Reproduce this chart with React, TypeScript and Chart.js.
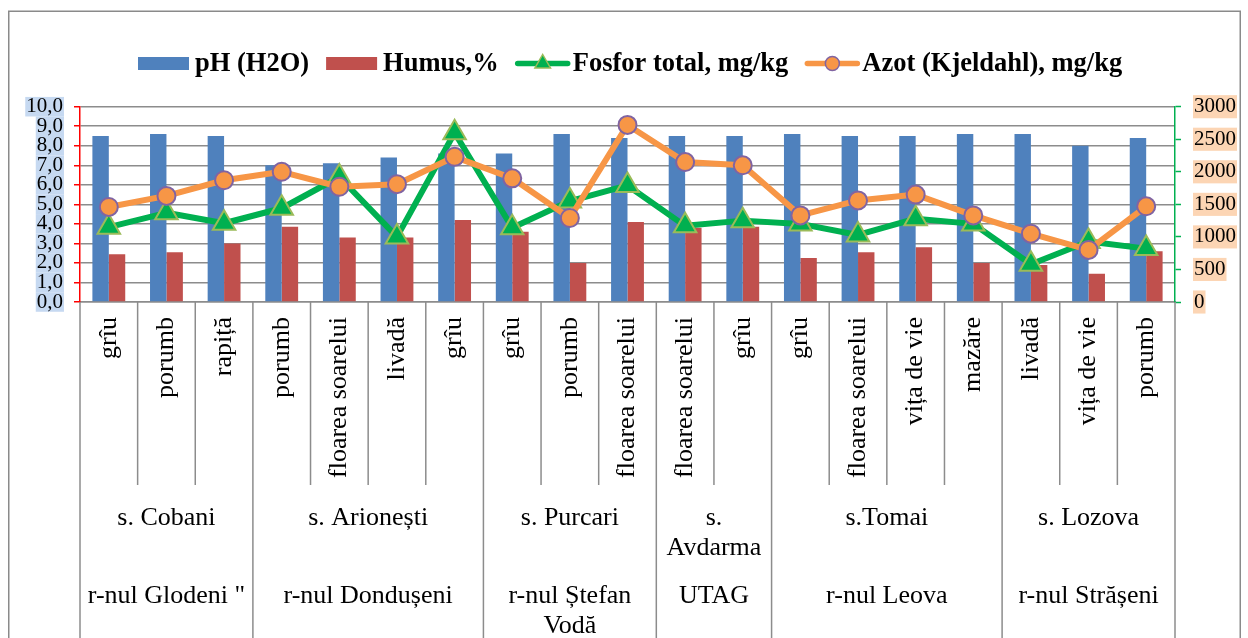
import React, { useEffect, useRef } from "react";
import { Chart, registerables } from "chart.js";

Chart.register(...registerables);

// ---- data ----
const categories = [
  "grîu", "porumb", "rapiță",
  "porumb", "floarea soarelui", "livadă", "grîu",
  "grîu", "porumb", "floarea soarelui",
  "floarea soarelui", "grîu",
  "grîu", "floarea soarelui", "vița de vie", "mazăre",
  "livadă", "vița de vie", "porumb",
];
const villageLabels = [["s. Cobani"], ["s. Arionești"], ["s. Purcari"], ["s.", "Avdarma"], ["s.Tomai"], ["s. Lozova"]];
const villageSizes = [3, 4, 3, 2, 4, 3];
const districtLabels = [["r-nul Glodeni \""], ["r-nul Dondușeni"], ["r-nul Ștefan", "Vodă"], ["UTAG"], ["r-nul Leova"], ["r-nul Strășeni"]];

const phValues = [8.5, 8.6, 8.5, 7.0, 7.1, 7.4, 7.6, 7.6, 8.6, 8.4, 8.5, 8.5, 8.6, 8.5, 8.5, 8.6, 8.6, 8.0, 8.4];
const humusValues = [2.45, 2.55, 3.0, 3.85, 3.3, 3.3, 4.2, 3.6, 2.0, 4.1, 3.8, 3.85, 2.25, 2.55, 2.8, 2.0, 1.9, 1.45, 2.6];
const fosforValues = [1150, 1370, 1210, 1440, 1920, 1000, 2600, 1140, 1550, 1790, 1170, 1250, 1200, 1030, 1280, 1200, 580, 930, 820];
const azotValues = [1460, 1630, 1870, 2000, 1770, 1810, 2230, 1900, 1290, 2720, 2150, 2100, 1330, 1560, 1650, 1330, 1050, 800, 1470];

const leftTickLabels = ["0,0", "1,0", "2,0", "3,0", "4,0", "5,0", "6,0", "7,0", "8,0", "9,0", "10,0"];
const rightTickLabels = ["0", "500", "1000", "1500", "2000", "2500", "3000"];

// ---- styles ----
const FONT = "'Liberation Serif', 'Times New Roman', serif";
const BLUE = "#4f81bd";
const RED = "#c0504d";
const GREEN = "#00b050";
const OLIVE = "#9bbb59";
const ORANGE = "#f79646";
const PURPLE = "#8064a2";
const GRID = "#8c8c8c";

const framePlugin = {
  id: "frame",
  beforeDraw(chart: any) {
    const ctx = chart.ctx;
    ctx.save();
    ctx.fillStyle = "#ffffff";
    ctx.fillRect(0, 0, chart.width, chart.height);
    ctx.strokeStyle = "#8a8a8a";
    ctx.lineWidth = 1.5;
    ctx.strokeRect(8.75, 11.25, 1231.5, 700);
    ctx.restore();
  },
};

const groupPlugin = {
  id: "groups",
  afterDraw(chart: any) {
    const xs = chart.scales.x;
    const ctx = chart.ctx;
    const step = xs.getPixelForValue(1) - xs.getPixelForValue(0);
    const edge = (i: number) => xs.getPixelForValue(i) - step / 2;
    const top = chart.chartArea.bottom;
    const groupEdges = new Set<number>([0]);
    let acc = 0;
    villageSizes.forEach((s) => {
      acc += s;
      groupEdges.add(acc);
    });
    ctx.save();
    ctx.strokeStyle = GRID;
    ctx.lineWidth = 1.5;
    for (let i = 0; i <= categories.length; i++) {
      const px = edge(i);
      const bottom = groupEdges.has(i) ? chart.height : 485;
      ctx.beginPath();
      ctx.moveTo(px, top);
      ctx.lineTo(px, bottom);
      ctx.stroke();
    }
    ctx.fillStyle = "#000";
    ctx.font = `26px ${FONT}`;
    ctx.textAlign = "center";
    ctx.textBaseline = "alphabetic";
    let start = 0;
    villageSizes.forEach((s, g) => {
      const cx = (edge(start) + edge(start + s)) / 2;
      villageLabels[g].forEach((ln, k) => ctx.fillText(ln, cx, 525 + k * 30));
      districtLabels[g].forEach((ln, k) => ctx.fillText(ln, cx, 603 + k * 30));
      start += s;
    });
    ctx.restore();
  },
};

const legendPlugin = {
  id: "customLegend",
  afterDraw(chart: any) {
    const ctx = chart.ctx;
    ctx.save();
    ctx.font = `bold 26.5px ${FONT}`;
    ctx.textBaseline = "alphabetic";
    ctx.textAlign = "left";
    let x = 137;
    const cy = 63.5;
    chart.data.datasets.forEach((ds: any) => {
      if (ds.type === "bar") {
        ctx.fillStyle = ds.backgroundColor;
        ctx.fillRect(x + 1, cy - 6.5, 51, 13);
      } else {
        ctx.strokeStyle = ds.borderColor;
        ctx.lineWidth = 5.5;
        ctx.lineCap = "round";
        ctx.beginPath();
        ctx.moveTo(x + 3, cy);
        ctx.lineTo(x + 53, cy);
        ctx.stroke();
        const mx = x + 28;
        ctx.fillStyle = ds.pointBackgroundColor;
        ctx.strokeStyle = ds.pointBorderColor;
        ctx.lineWidth = 1.5;
        ctx.beginPath();
        if (ds.pointStyle === "triangle") {
          const r = 9;
          ctx.moveTo(mx, cy - r);
          ctx.lineTo(mx + r * 0.866, cy + r / 2);
          ctx.lineTo(mx - r * 0.866, cy + r / 2);
          ctx.closePath();
        } else {
          ctx.arc(mx, cy, 7, 0, Math.PI * 2);
        }
        ctx.fill();
        ctx.stroke();
      }
      ctx.fillStyle = "#000";
      ctx.fillText(ds.label, x + 58, 71);
      x += 58 + ctx.measureText(ds.label).width + 16;
    });
    ctx.restore();
  },
};

export default function App() {
  const ref = useRef<HTMLCanvasElement | null>(null);

  useEffect(() => {
    if (!ref.current) return;
    const chart = new Chart(ref.current, {
      type: "bar",
      data: {
        labels: categories,
        datasets: [
          {
            type: "bar",
            label: "pH (H2O)",
            data: phValues,
            backgroundColor: BLUE,
            yAxisID: "y",
            order: 2,
            categoryPercentage: 0.57,
            barPercentage: 1,
          },
          {
            type: "bar",
            label: "Humus,%",
            data: humusValues,
            backgroundColor: RED,
            yAxisID: "y",
            order: 2,
            categoryPercentage: 0.57,
            barPercentage: 1,
          },
          {
            type: "line",
            label: "Fosfor total, mg/kg",
            data: fosforValues,
            borderColor: GREEN,
            borderWidth: 6,
            borderJoinStyle: "round",
            pointStyle: "triangle",
            pointRadius: 13,
            pointBackgroundColor: GREEN,
            pointBorderColor: OLIVE,
            pointBorderWidth: 2,
            yAxisID: "y1",
            order: 1,
            tension: 0,
          },
          {
            type: "line",
            label: "Azot (Kjeldahl), mg/kg",
            data: azotValues,
            borderColor: ORANGE,
            borderWidth: 6,
            borderJoinStyle: "round",
            pointStyle: "circle",
            pointRadius: 9,
            pointBackgroundColor: ORANGE,
            pointBorderColor: PURPLE,
            pointBorderWidth: 2,
            yAxisID: "y1",
            order: 0,
            tension: 0,
          },
        ] as any,
      },
      options: {
        responsive: false,
        animation: false,
        devicePixelRatio: 1,
        layout: { padding: { top: 106.7, left: 0, right: 0, bottom: 0 } },
        plugins: {
          legend: { display: false },
          tooltip: { enabled: false },
        },
        scales: {
          x: {
            offset: true,
            grid: { display: false, drawTicks: false },
            border: { display: true, color: GRID, width: 1.5 },
            ticks: {
              autoSkip: false,
              minRotation: 90,
              maxRotation: 90,
              padding: 15,
              color: "#000",
              font: { family: FONT, size: 26 },
            },
            afterFit: (s: any) => {
              s.height = 336;
            },
          },
          y: {
            position: "left",
            min: 0,
            max: 10,
            ticks: {
              stepSize: 1,
              autoSkip: false,
              padding: 11,
              color: "#000",
              font: { family: FONT, size: 21, lineHeight: 0.93 },
              showLabelBackdrop: true,
              backdropColor: "#c6d9f1",
              backdropPadding: { top: 0, bottom: 0, left: 1, right: 1 },
              callback: (_v: any, i: number) => leftTickLabels[i],
            },
            grid: { color: GRID, lineWidth: 1.5, tickColor: "#ff0000", tickLength: 6, tickWidth: 1.5 },
            border: { color: "#ff0000", width: 1.5 },
            afterFit: (s: any) => {
              s.width = 80;
            },
          },
          y1: {
            position: "right",
            min: 0,
            max: 3000,
            ticks: {
              stepSize: 500,
              autoSkip: false,
              padding: 13,
              color: "#000",
              font: { family: FONT, size: 21, lineHeight: 1.1 },
              showLabelBackdrop: true,
              backdropColor: "#fcd5b4",
              backdropPadding: { top: 0, bottom: 0, left: 1, right: 1 },
              callback: (_v: any, i: number) => rightTickLabels[i],
            },
            grid: { drawOnChartArea: false, color: GREEN, tickColor: GREEN, tickLength: 6, tickWidth: 1.5 },
            border: { color: GREEN, width: 1.5 },
            afterFit: (s: any) => {
              s.width = 73;
            },
          },
        },
      } as any,
      plugins: [framePlugin, groupPlugin, legendPlugin],
    });
    return () => chart.destroy();
  }, []);

  return (
    <div style={{ position: "fixed", left: 0, top: 0, width: 1248, height: 638, background: "#fff" }}>
      <canvas ref={ref} width={1248} height={638} style={{ display: "block" }} />
    </div>
  );
}
